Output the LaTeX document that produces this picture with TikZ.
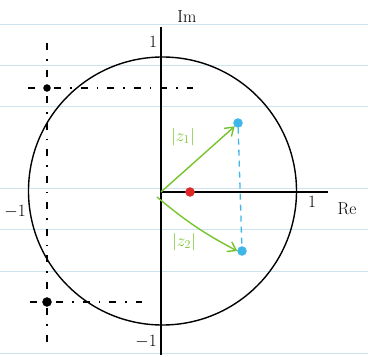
\documentclass[tikz,border=0pt]{standalone}
\usepackage{amsmath,amssymb}
\usepackage{tikz}
\usetikzlibrary{arrows.meta}

\definecolor{paperline}{RGB}{205,228,238}
\definecolor{zgreen}{RGB}{118,196,44}
\definecolor{zblue}{RGB}{62,182,232}
\definecolor{zred}{RGB}{222,40,40}

\begin{document}
\begin{tikzpicture}[x=1pt,y=-1pt,line width=1.4pt,
  lbl/.style={font=\LARGE,inner sep=0pt},
  zarrow/.style={zgreen,line width=1.4pt,-{Straight Barb[length=8pt,width=11pt]}},
  zdot/.style={circle,fill=#1,draw=#1,minimum size=8pt,inner sep=0pt},
  guide/.style={line width=1.2pt,dash pattern=on 7pt off 9pt on 1.5pt off 9pt}]
\useasboundingbox (0,0) rectangle (368,357);
% ruled paper
\foreach \y in {24,65,106,188,229,271,353}
  \draw[paperline,line width=1pt] (0,\y) -- (368,\y);
\coordinate (o) at (161,192);
% axes and unit circle
\draw (161,355) -- (161,27);
\draw (o) -- (328,192);
\draw (162.5,191) circle (134pt);
\node[lbl] (im) at (187,17) {Im};
\node[lbl] (re) at (347,209) {Re};
\node[lbl] (one y) at (153,42) {1};
\node[lbl] (one x) at (312,202) {1};
\node[lbl] (mone x) at (15,212) {$-1$};
\node[lbl] (mone y) at (146,342) {$-1$};
% dashed guides
\coordinate (g top) at (47,43);
\coordinate (g bot) at (47,342);
\draw[guide] (g top) -- (g bot);
\node[zdot=black,minimum size=6pt] (p up) at (47,88) {};
\node[zdot=black,minimum size=8pt] (p down) at (47,302) {};
\coordinate (h up) at (193,88);
\coordinate (h down) at (142,302);
\draw[guide] (28,88) -- (h up);
\draw[guide] (30,302) -- (h down);
% poles
\node[zdot=zred] (c) at (190,192) {};
\node[zdot=zblue] (z1) at (238,123) {};
\node[zdot=zblue] (z2) at (242,251) {};
\draw[zblue,line width=1.3pt,dash pattern=on 6pt off 5pt] (z1) -- (z2);
\coordinate (s2) at (157,197);
\draw[zarrow] (o) -- (z1.south west);
\draw[zarrow] (s2) to[bend right=6] (z2.west);
\node[lbl,zgreen] (n1) at (183,137) {$|z_1|$};
\node[lbl,zgreen] (n2) at (184,242) {$|z_2|$};
\end{tikzpicture}
\end{document}
